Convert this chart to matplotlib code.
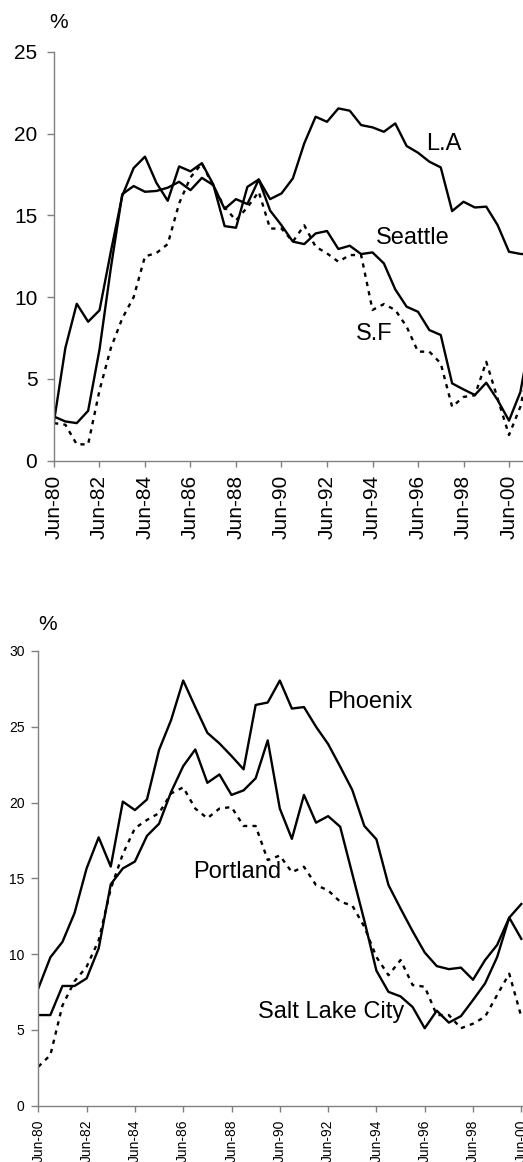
import numpy as np
import matplotlib
matplotlib.use('Agg')
import matplotlib.pyplot as plt

plt.rcParams['font.family'] = ['Liberation Sans', 'DejaVu Sans']

# ---------------- data (semi-annual, starting Jun-80) ----------------
# top panel: west coast
la = [2.4, 6.9, 9.6, 8.5, 9.2, 12.8, 16.2, 17.9, 18.6, 17.0, 15.9, 18.0, 17.7, 18.2,
      16.9, 14.35, 14.25, 16.75, 17.2, 16.0, 16.35, 17.27, 19.41, 21.04, 20.73, 21.55,
      21.41, 20.53, 20.39, 20.12, 20.63, 19.25, 18.84, 18.29, 17.94, 15.27, 15.84,
      15.49, 15.54, 14.41, 12.78, 12.65, 12.6]
seattle = [2.7, 2.4, 2.3, 3.05, 6.8, 11.8, 16.3, 16.8, 16.45, 16.5, 16.7, 17.06, 16.55,
           17.3, 16.86, 15.4, 16.0, 15.7, 17.2, 15.3, 14.4, 13.4, 13.25, 13.9, 14.05,
           12.95, 13.15, 12.64, 12.74, 12.07, 10.48, 9.42, 9.11, 7.99, 7.69, 4.73, 4.36,
           4.02, 4.77, 3.71, 2.45, 4.2, 8.0]
sf = [2.3, 2.2, 1.0, 1.0, 4.3, 6.9, 8.7, 10.0, 12.5, 12.7, 13.25, 15.74, 17.33, 18.18,
      16.8, 15.5, 14.7, 15.5, 16.45, 14.2, 14.2, 13.4, 14.4, 13.09, 12.68, 12.17, 12.58,
      12.58, 9.22, 9.58, 9.22, 8.2, 6.67, 6.67, 5.95, 3.3, 3.9, 4.0, 6.05, 3.8, 1.57,
      3.3, 6.5]

# bottom panel: mountain / northwest
phoenix = [7.73, 9.78, 10.8, 12.7, 15.65, 17.7, 15.77, 20.06, 19.5, 20.2, 23.47, 25.45,
           28.05, 26.3, 24.6, 23.9, 23.07, 22.19, 26.44, 26.6, 28.05, 26.2, 26.3, 25.0,
           23.86, 22.37, 20.83, 18.45, 17.57, 14.55, 13.0, 11.5, 10.1, 9.2, 9.0, 9.1,
           8.3, 9.6, 10.6, 12.4, 13.3]
slc = [5.97, 5.97, 7.89, 7.89, 8.39, 10.37, 14.6, 15.65, 16.1, 17.8, 18.6, 20.7, 22.4,
       23.5, 21.3, 21.85, 20.5, 20.8, 21.6, 24.1, 19.6, 17.6, 20.5, 18.67, 19.1, 18.4,
       15.3, 12.2, 8.9, 7.5, 7.2, 6.5, 5.1, 6.26, 5.47, 5.9, 6.96, 8.06, 9.8, 12.4, 11.0]
portland = [2.56, 3.33, 6.6, 8.2, 9.16, 10.9, 14.3, 16.6, 18.3, 18.85, 19.3, 20.6, 21.0,
            19.6, 18.96, 19.6, 19.7, 18.45, 18.45, 16.2, 16.5, 15.4, 15.76, 14.55, 14.2,
            13.45, 13.2, 11.8, 9.8, 8.6, 9.6, 7.95, 7.84, 5.97, 5.97, 5.1, 5.4, 5.86,
            7.3, 8.7, 5.86]

tick_years = np.arange(1980, 2001, 2)
tick_labels = ['Jun-%02d' % (y % 100) for y in tick_years]


def half_years(series):
    return 1980 + 0.5 * np.arange(len(series))


def style_axes(ax, ymax, ystep, fs, pad_x, pad_y):
    for s in ['top', 'right']:
        ax.spines[s].set_visible(False)
    for s in ['left', 'bottom']:
        ax.spines[s].set_color('#808080')
        ax.spines[s].set_linewidth(1.0)
    ax.set_xlim(1980, 2002)
    ax.set_ylim(0, ymax)
    ax.set_yticks(np.arange(0, ymax + 1, ystep))
    ax.set_xticks(tick_years)
    ax.set_xticklabels(tick_labels, rotation=90)
    ax.tick_params(axis='x', direction='out', length=4, width=1, color='#808080',
                   labelsize=fs, pad=pad_x)
    ax.tick_params(axis='y', direction='out', length=5, width=1, color='#808080',
                   labelsize=fs, pad=pad_y)
    ax.patch.set_visible(False)


fig = plt.figure(figsize=(5.23, 11.62), dpi=100)

lw = 1.7
dash = (0, (1.8, 2.2))

# ---------------- top panel ----------------
ax1 = fig.add_axes([0.10325, 0.60353, 0.95698, 0.35172])
ax1.plot(half_years(la), la, color='black', lw=lw)
ax1.plot(half_years(seattle), seattle, color='black', lw=lw)
ax1.plot(half_years(sf), sf, color='black', lw=lw, linestyle=dash)
style_axes(ax1, 25, 5, 15, 6, 7)
ax1.text(1997.14, 19.37, 'L.A', fontsize=17, ha='center', va='center')
ax1.text(1995.78, 13.61, 'Seattle', fontsize=17, ha='center', va='center')
ax1.text(1994.07, 7.75, 'S.F', fontsize=17, ha='center', va='center')
fig.text(59 / 523, 1 - 23 / 1162, '%', fontsize=15, ha='center', va='center')

# ---------------- bottom panel ----------------
ax2 = fig.add_axes([0.07323, 0.04862, 1.0159, 0.39114])
ax2.plot(half_years(phoenix), phoenix, color='black', lw=lw)
ax2.plot(half_years(slc), slc, color='black', lw=lw)
ax2.plot(half_years(portland), portland, color='black', lw=lw, linestyle=dash)
style_axes(ax2, 30, 5, 10, 6, 5)
ax2.text(1993.73, 26.63, 'Phoenix', fontsize=17, ha='center', va='center')
ax2.text(1988.25, 15.41, 'Portland', fontsize=17, ha='center', va='center')
ax2.text(1992.12, 6.17, 'Salt Lake City', fontsize=17, ha='center', va='center')
fig.text(48 / 523, 1 - 624 / 1162, '%', fontsize=15, ha='center', va='center')

fig.savefig('out.png', dpi=100)
